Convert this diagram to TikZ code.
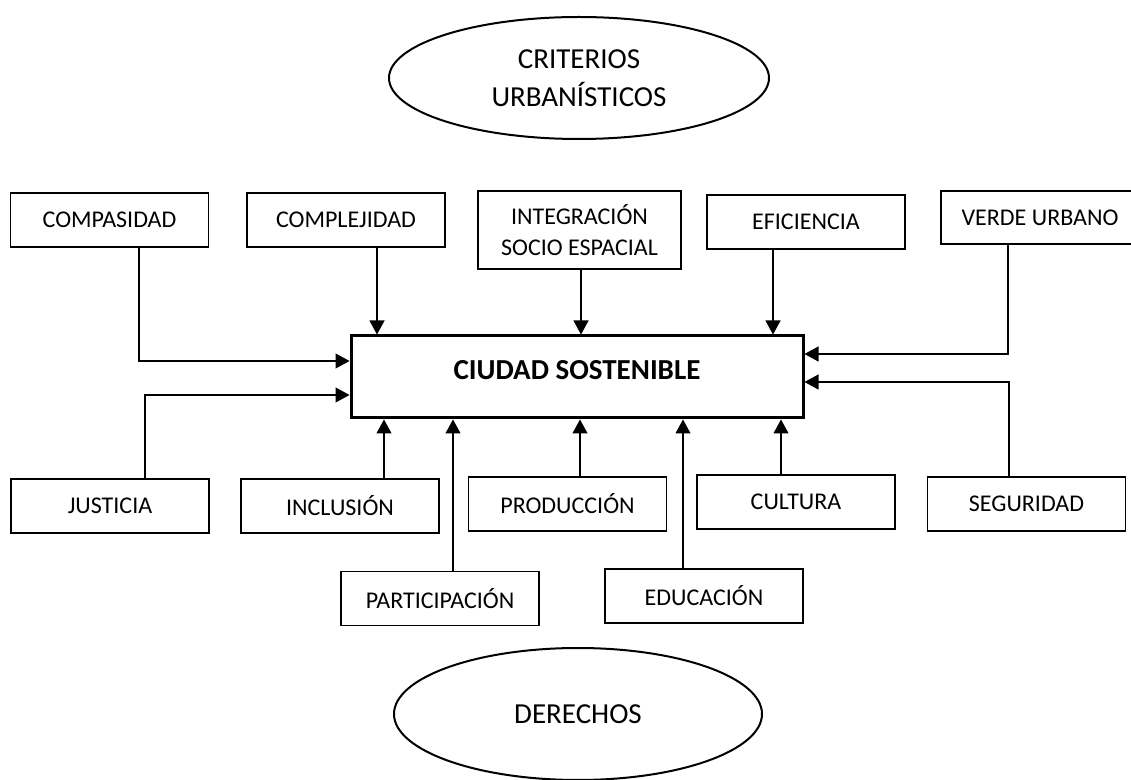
\documentclass[tikz,border=0pt]{standalone}
\usepackage{fontspec}
\setmainfont{Carlito}
\usetikzlibrary{arrows.meta,shapes.geometric}

\begin{document}
\begin{tikzpicture}[x=0.5pt,y=-0.5pt,
	caja/.style={draw, line width=0.9pt, minimum width=99pt, minimum height=27pt, inner sep=0pt, align=center, font=\fontsize{12}{15.5}\selectfont},
	elipse/.style={ellipse, draw, line width=1pt, inner sep=0pt, align=center, font=\fontsize{14.5}{19}\selectfont},
	flecha/.style={line width=0.55pt, -{Triangle[length=7pt,width=7.5pt]}}]
	\useasboundingbox (0,0) rectangle (1131,780);

	\node[elipse, minimum width=190pt, minimum height=61pt] (criterios) at (579,78) {CRITERIOS\\URBANÍSTICOS};
	\node[elipse, minimum width=184pt, minimum height=66pt] (derechos) at (578,714) {DERECHOS};

	\node[draw, line width=1.5pt, minimum width=226pt, minimum height=41pt, text depth=7pt, font=\fontsize{14.5}{16}\selectfont\bfseries] (ciudad) at (577,377) {CIUDAD SOSTENIBLE};

	\node[caja] (compasidad) at (109.5,220) {COMPASIDAD};
	\node[caja] (complejidad) at (346,220) {COMPLEJIDAD};
	\node[caja, minimum width=101.5pt, minimum height=39pt] (integracion) at (579.5,230) {INTEGRACIÓN\\SOCIO ESPACIAL};
	\node[caja] (eficiencia) at (806,222) {EFICIENCIA};
	\node[caja, minimum height=26.5pt] (verde) at (1040,217.5) {VERDE URBANO};

	\node[caja] (justicia) at (110,506) {JUSTICIA};
	\node[caja] (inclusion) at (340,506) {INCLUSIÓN};
	\node[caja] (produccion) at (567.5,504) {PRODUCCIÓN};
	\node[caja] (cultura) at (796,502) {CULTURA};
	\node[caja] (seguridad) at (1026.5,504) {SEGURIDAD};
	\node[caja] (participacion) at (440,598.5) {PARTICIPACIÓN};
	\node[caja] (educacion) at (704,596) {EDUCACIÓN};

	\coordinate (kcomp) at (139,361);
	\coordinate (kjust) at (145,395);
	\coordinate (kverde) at (1008,354);
	\coordinate (kseg) at (1009,382);
	\coordinate (kcompl) at (377,0);
	\coordinate (kinteg) at (581,0);
	\coordinate (kefic) at (773,0);
	\coordinate (kincl) at (384,0);
	\coordinate (kpart) at (453,0);
	\coordinate (kprod) at (580,0);
	\coordinate (keduc) at (683,0);
	\coordinate (kcult) at (781,0);

	\draw[flecha] (compasidad.south -| kcomp) |- (ciudad.west |- kcomp);
	\draw[flecha] (justicia.north -| kjust) |- (ciudad.west |- kjust);
	\draw[flecha] (verde.south -| kverde) |- (ciudad.east |- kverde);
	\draw[flecha] (seguridad.north -| kseg) |- (ciudad.east |- kseg);

	\draw[flecha] (complejidad.south -| kcompl) -- (ciudad.north -| kcompl);
	\draw[flecha] (integracion.south -| kinteg) -- (ciudad.north -| kinteg);
	\draw[flecha] (eficiencia.south -| kefic) -- (ciudad.north -| kefic);

	\draw[flecha] (inclusion.north -| kincl) -- (ciudad.south -| kincl);
	\draw[flecha] (participacion.north -| kpart) -- (ciudad.south -| kpart);
	\draw[flecha] (produccion.north -| kprod) -- (ciudad.south -| kprod);
	\draw[flecha] (educacion.north -| keduc) -- (ciudad.south -| keduc);
	\draw[flecha] (cultura.north -| kcult) -- (ciudad.south -| kcult);
\end{tikzpicture}
\end{document}
